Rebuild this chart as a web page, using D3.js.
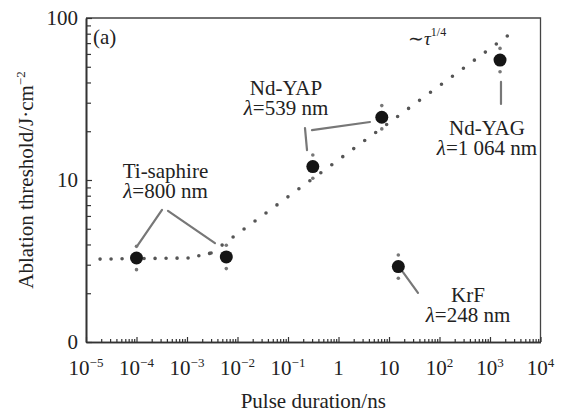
<!DOCTYPE html>
<html>
<head>
<meta charset="utf-8">
<script src="https://cdn.jsdelivr.net/npm/d3@7"></script>
<style>
  html, body { margin: 0; padding: 0; background: #fff; }
  svg { display: block; }
  text { font-family: "Liberation Serif", "Times New Roman", serif; fill: #222; }
</style>
</head>
<body>
<svg id="chart" width="563" height="413"></svg>
<script>
// Measured ablation thresholds (pulse duration in ns, threshold in J/cm^2)
const laserNames = ["Ti-saphire", "Ti-saphire", "Nd-YAP", "Nd-YAP", "Nd-YAG", "KrF"];
const pulseDurations = [1e-4, 6e-3, 0.31, 7.2, 1580, 15.3];
const thresholds = [3.3, 3.35, 12.1, 24.4, 55, 2.92];
const errorFactor = [1.18, 1.18, 1.18, 1.18, 1.18, 1.18];

// ~tau^(1/4) guide curve knots
const guideFlatX = [1.9e-5, 1.1e-3, 3.0e-3];
const guideFlatY = [3.25, 3.30, 3.54];
const guideRiseX = [3.0e-3, 5.0e-3, 2830];
const guideRiseY = [3.54, 3.97, 82];

// Axis ticks
const xTickValues = [1e-5, 1e-4, 1e-3, 1e-2, 1e-1, 1, 10, 1e2, 1e3, 1e4];
const xTickBases = ["10", "10", "10", "10", "10", "1", "10", "10", "10", "10"];
const xTickSups = ["−5", "−4", "−3", "−2", "−1", "", "", "2", "3", "4"];
const yTickValues = [1, 10, 100];
const yTickLabels = ["0", "10", "100"];

// Annotation text (lines of each label) and leader lines, anchored in data space
const labelLines = [
  ["Ti-saphire", "λ=800 nm"],
  ["Nd-YAP", "λ=539 nm"],
  ["Nd-YAG", "λ=1 064 nm"],
  ["KrF", "λ=248 nm"]
];
const labelAnchorX = [3.75e-4, 0.0912, 873, 367];
const labelAnchorY = [10.3, 33.5, 18.9, 1.77];
const leaderFromX = [1.07e-4, 4.2e-4, 0.217, 0.298, 1650, 18.9];
const leaderFromY = [3.97, 6.44, 20.9, 20.3, 40.3, 2.70];
const leaderToX = [3.2e-4, 3.58e-3, 0.238, 4.2, 1650, 37.5];
const leaderToY = [6.53, 4.08, 15.3, 22.8, 29.5, 2.01];

const svg = d3.select("#chart");
const plotLeft = 86, plotRight = 540.5, plotTop = 18, plotBottom = 342;

const x = d3.scaleLog().domain([1e-5, 1e4]).range([plotLeft, plotRight]);
const y = d3.scaleLog().domain([1, 100]).range([plotBottom, plotTop]);

// Minor tick positions (2..9 within each decade)
const xMinor = [];
for (let e = -5; e < 4; e++) for (let m = 2; m <= 9; m++) xMinor.push(m * Math.pow(10, e));
const yMinor = [];
for (let e = 0; e < 2; e++) for (let m = 2; m <= 9; m++) yMinor.push(m * Math.pow(10, e));

// Frame (top and right)
svg.append("path")
  .attr("d", `M${plotLeft},${plotTop}H${plotRight}V${plotBottom}`)
  .attr("fill", "none").attr("stroke", "#444").attr("stroke-width", 1.3);

function styleAxis(g) {
  g.selectAll("path.domain").attr("stroke", "#333").attr("stroke-width", 1.6);
  g.selectAll(".tick line").attr("stroke", "#333").attr("stroke-width", 1.2);
  g.selectAll(".tick text").remove();
}

// X axis: major and minor ticks pointing inward
svg.append("g").attr("transform", `translate(0,${plotBottom})`)
  .call(d3.axisBottom(x).tickValues(xMinor).tickSize(-3).tickSizeOuter(0).tickFormat(""))
  .call(styleAxis);
svg.append("g").attr("transform", `translate(0,${plotBottom})`)
  .call(d3.axisBottom(x).tickValues(xTickValues).tickSize(-5).tickSizeOuter(0).tickFormat(""))
  .call(styleAxis);

// Y axis
svg.append("g").attr("transform", `translate(${plotLeft},0)`)
  .call(d3.axisLeft(y).tickValues(yMinor).tickSize(-5).tickSizeOuter(0).tickFormat(""))
  .call(styleAxis);
svg.append("g").attr("transform", `translate(${plotLeft},0)`)
  .call(d3.axisLeft(y).tickValues(yTickValues).tickSize(-6).tickSizeOuter(0).tickFormat(""))
  .call(styleAxis);

// X tick labels with superscript exponents
xTickValues.forEach((v, i) => {
  const t = svg.append("text")
    .attr("x", x(v)).attr("y", 375)
    .attr("text-anchor", "middle")
    .attr("font-size", 21);
  t.append("tspan").text(xTickBases[i]);
  if (xTickSups[i]) {
    t.append("tspan").attr("dy", -8).attr("font-size", 13).text(xTickSups[i]);
  }
});

// Y tick labels
yTickValues.forEach((v, i) => {
  svg.append("text")
    .attr("x", plotLeft - 8).attr("y", y(v) + 7)
    .attr("text-anchor", "end")
    .attr("font-size", 21)
    .text(yTickLabels[i]);
});

// Axis titles
svg.append("text")
  .attr("x", (plotLeft + plotRight) / 2).attr("y", 408)
  .attr("text-anchor", "middle").attr("font-size", 21)
  .text("Pulse duration/ns");

const yt = svg.append("text")
  .attr("transform", `translate(33,${(plotTop + plotBottom) / 2}) rotate(-90)`)
  .attr("text-anchor", "middle").attr("font-size", 21);
yt.append("tspan").text("Ablation threshold/J·cm");
yt.append("tspan").attr("dy", -8).attr("font-size", 13).text("−2");

// Panel tag
svg.append("text").attr("x", 93).attr("y", 44).attr("font-size", 21).text("(a)");

// Guide curve label
const tau = svg.append("text").attr("x", 408).attr("y", 45).attr("font-size", 19);
tau.append("tspan").text("∼");
tau.append("tspan").attr("font-style", "italic").text("τ");
tau.append("tspan").attr("dy", -9).attr("font-size", 12).text("1/4");

// Dotted guide curve
const line = d3.line().x(d => x(d[0])).y(d => y(d[1]));
svg.append("path")
  .attr("d", line(d3.zip(guideFlatX, guideFlatY)))
  .attr("fill", "none").attr("stroke", "#555")
  .attr("stroke-width", 3.6).attr("stroke-linecap", "round")
  .attr("stroke-dasharray", "0 11");
svg.append("path")
  .attr("d", line(d3.zip(guideRiseX, guideRiseY)))
  .attr("fill", "none").attr("stroke", "#555")
  .attr("stroke-width", 3.6).attr("stroke-linecap", "round")
  .attr("stroke-dasharray", "0 13.6")
  .attr("stroke-dashoffset", -13.6);

// Leader lines
svg.append("g").selectAll("line")
  .data(d3.range(leaderFromX.length))
  .join("line")
  .attr("x1", i => x(leaderFromX[i])).attr("y1", i => y(leaderFromY[i]))
  .attr("x2", i => x(leaderToX[i])).attr("y2", i => y(leaderToY[i]))
  .attr("stroke", "#777").attr("stroke-width", 2.2).attr("stroke-linecap", "round");

// Two-line labels: laser name, then wavelength with italic lambda
labelLines.forEach((lines, i) => {
  const cx = x(labelAnchorX[i]);
  const t = svg.append("text")
    .attr("x", cx).attr("y", y(labelAnchorY[i]))
    .attr("text-anchor", "middle").attr("font-size", 21);
  lines.forEach((s, j) => {
    if (s.startsWith("λ")) {
      t.append("tspan").attr("x", cx).attr("dy", j ? 20 : 0)
        .attr("font-style", "italic").text("λ");
      t.append("tspan").text(s.slice(1));
    } else {
      t.append("tspan").attr("x", cx).attr("dy", j ? 20 : 0).text(s);
    }
  });
});

// Error-bar end dots
const pts = d3.range(pulseDurations.length);
svg.append("g").selectAll("circle")
  .data(pts.flatMap(i => [[pulseDurations[i], thresholds[i] * errorFactor[i]],
                          [pulseDurations[i], thresholds[i] / errorFactor[i]]]))
  .join("circle")
  .attr("cx", d => x(d[0])).attr("cy", d => y(d[1]))
  .attr("r", 1.8).attr("fill", "#777");

// Data markers
svg.append("g").selectAll("circle")
  .data(pts)
  .join("circle")
  .attr("cx", i => x(pulseDurations[i])).attr("cy", i => y(thresholds[i]))
  .attr("r", 6.5).attr("fill", "#151515")
  .append("title").text(i => laserNames[i]);
</script>
</body>
</html>
